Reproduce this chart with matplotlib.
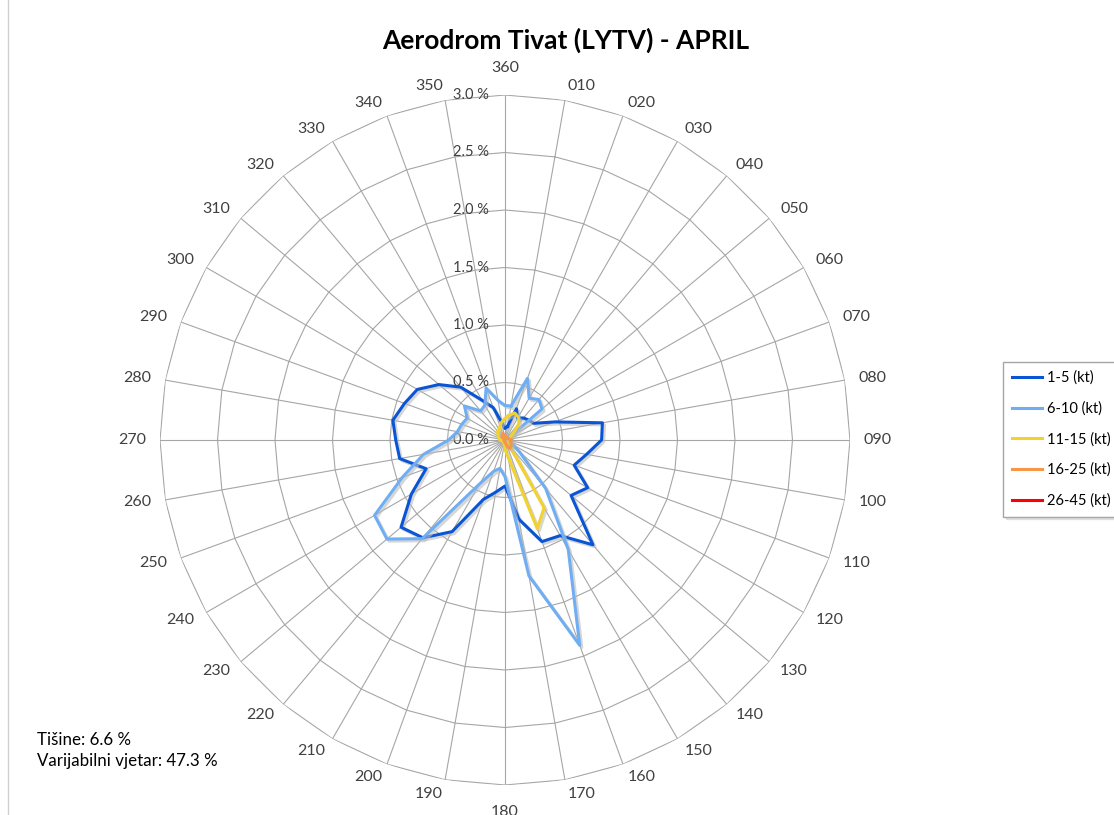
import numpy as np
import matplotlib
matplotlib.use('Agg')
from matplotlib import pyplot as plt
import matplotlib.patheffects as pe
from matplotlib.lines import Line2D

plt.rcParams['font.family'] = ['Lato', 'DejaVu Sans']

# wind directions 010 .. 360
directions = ['010', '020', '030', '040', '050', '060', '070', '080', '090',
              '100', '110', '120', '130', '140', '150', '160', '170', '180',
              '190', '200', '210', '220', '230', '240', '250', '260', '270',
              '280', '290', '300', '310', '320', '330', '340', '350', '360']

# frequency in % per speed class
kt_1_5 = [0.12, 0.29, 0.22, 0.25, 0.27, 0.29, 0.46, 0.86, 0.84,
          0.72, 0.64, 0.83, 0.75, 1.19, 0.96, 0.94, 0.70, 0.40,
          0.46, 0.55, 0.92, 1.11, 1.18, 0.94, 0.73, 0.93, 0.95,
          0.99, 0.93, 0.88, 0.75, 0.60, 0.40, 0.30, 0.15, 0.10]
kt_6_10 = [0.30, 0.57, 0.42, 0.46, 0.42, 0.04, 0.03, 0.03, 0.03,
           0.03, 0.05, 0.08, 0.17, 0.55, 1.10, 1.90, 1.20, 0.32,
           0.25, 0.29, 0.44, 1.12, 1.34, 1.31, 0.95, 0.72, 0.49,
           0.42, 0.40, 0.38, 0.46, 0.33, 0.35, 0.48, 0.35, 0.30]
kt_11_15 = [0.22, 0.25, 0.23, 0.19, 0.10, 0.05, 0.04, 0.03, 0.03,
            0.03, 0.03, 0.03, 0.04, 0.06, 0.68, 0.82, 0.15, 0.08,
            0.04, 0.03, 0.02, 0.02, 0.02, 0.02, 0.02, 0.03, 0.04,
            0.05, 0.06, 0.07, 0.08, 0.10, 0.10, 0.13, 0.16, 0.19]
kt_16_25 = [0.03, 0.03, 0.02, 0.02, 0.02, 0.03, 0.03, 0.04, 0.06,
            0.05, 0.05, 0.06, 0.07, 0.08, 0.085, 0.06, 0.03, 0.02,
            0.01, 0.01, 0.01, 0.01, 0.01, 0.01, 0.01, 0.01, 0.01,
            0.01, 0.01, 0.01, 0.02, 0.04, 0.05, 0.06, 0.05, 0.04]
kt_26_45 = [0.0] * 36

series_labels = ['1-5 (kt)', '6-10 (kt)', '11-15 (kt)', '16-25 (kt)', '26-45 (kt)']
series_values = [kt_1_5, kt_6_10, kt_11_15, kt_16_25, kt_26_45]
colors = ['#0A55D6', '#6FAEF2', '#F2D22E', '#F79646', '#FF0000']

r_ticks = [0.0, 0.5, 1.0, 1.5, 2.0, 2.5, 3.0]

fig = plt.figure(figsize=(11.14, 8.15), dpi=100)
ax = fig.add_axes([160/1114, 30/815, 690/1114, 690/815], projection='polar')
ax.set_theta_zero_location('N')
ax.set_theta_direction(-1)
ax.set_ylim(0, 3.0)
ax.grid(False)
ax.spines['polar'].set_visible(False)
ax.set_xticks([])
ax.set_yticks([])

theta = np.deg2rad([int(d) for d in directions])
theta_closed = np.append(theta, theta[0])

# polygon grid + spokes
grid_c = '#A6A6A6'
for r in r_ticks[1:]:
    ax.plot(theta_closed, [r] * 37, color=grid_c, lw=0.8, zorder=1)
for t in theta:
    ax.plot([t, t], [0, 3.0], color=grid_c, lw=0.8, zorder=1)

# direction labels (excel style: left/right aligned, vertically centred)
for t, d in zip(theta, directions):
    s = np.sin(t)
    if abs(s) < 1e-6:
        top = np.cos(t) > 0
        ax.text(t, 3.0 * 365 / 345, d, ha='center', va='bottom' if top else 'top',
                fontsize=11.5, color='#404040')
    else:
        ax.text(t, 3.0 * 359 / 345, d, ha='left' if s > 0 else 'right', va='center',
                fontsize=11.5, color='#404040')

# radial labels
for r in r_ticks:
    ax.annotate('%.1f %%' % r, xy=(0, r), xytext=(-16, 0), textcoords='offset pixels',
                ha='right', va='center', fontsize=10.5, color='#404040')

shadow = [pe.SimpleLineShadow(offset=(1.5, -1.5), shadow_color='#bbbbbb', alpha=0.6), pe.Normal()]
for vals, lab, c in zip(series_values, series_labels, colors):
    v = np.append(vals, vals[0])
    ax.plot(theta_closed, v, color=c, lw=2.2, label=lab, zorder=3, path_effects=shadow)

fig.text(566/1114, 1 - 40/815, 'Aerodrom Tivat (LYTV) - APRIL', ha='center', va='center',
         fontsize=19, fontweight='bold', color='black')

fig.text(37/1114, 1 - 740/815, 'Tišine: 6.6 %', ha='left', va='center', fontsize=12.2, color='black')
fig.text(37/1114, 1 - 761/815, 'Varijabilni vjetar: 47.3 %', ha='left', va='center',
         fontsize=12.2, color='black')

# chart area border on the left
fig.add_artist(Line2D([8/1114, 8/1114], [0, 1], color='#D0D0D0', lw=1))

handles = [Line2D([], [], color=c, lw=2.2) for c in colors]
leg = fig.legend(handles, series_labels, loc='upper left', bbox_to_anchor=(1003/1114, 1 - 362/815),
                 borderaxespad=0, frameon=True, fancybox=False, edgecolor='#A6A6A6', fontsize=10.5,
                 handlelength=2.1, handletextpad=0.3, labelspacing=1.12, borderpad=0.6,
                 shadow={'color': '#cccccc'})

fig.savefig('out.png', dpi=100)
